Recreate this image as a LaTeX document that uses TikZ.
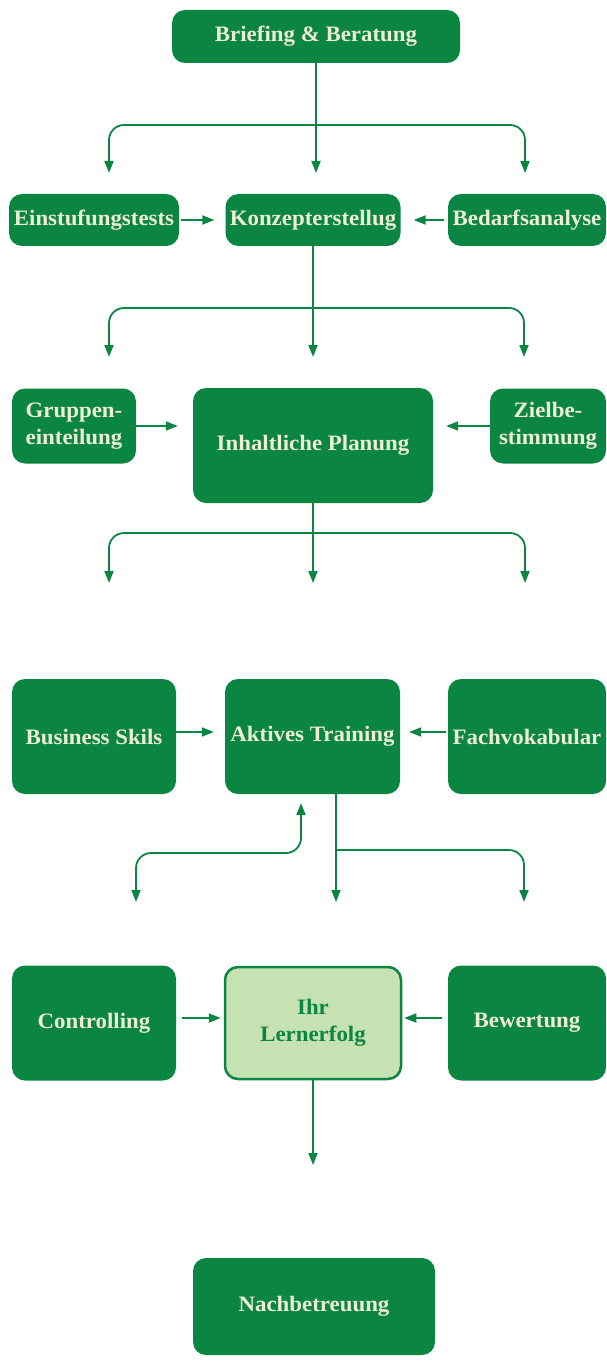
\documentclass[tikz,border=0pt]{standalone}
\usepackage{fontspec}
\setmainfont{Liberation Serif}[FakeStretch=1.04]
\usepackage{xcolor}
\usetikzlibrary{arrows.meta,positioning,calc}

\definecolor{flowgreen}{RGB}{11,133,66}
\definecolor{flowlight}{RGB}{198,225,178}
\definecolor{flowtext}{RGB}{238,238,215}

\begin{document}
\begin{tikzpicture}[x=1pt, y=-1pt,
    block/.style={fill=flowgreen, rounded corners=13pt, text=flowtext, font=\bfseries\fontsize{22}{27}\selectfont, align=center, inner sep=0pt},
    goal/.style={block, draw=flowgreen, line width=2.5pt, fill=flowlight, text=flowgreen},
    arr/.style={-{Triangle[length=12pt, width=9pt]}, draw=flowgreen, line width=1.8pt},
    branch/.style={arr, rounded corners=15pt},
    twoway/.style={{Triangle[length=12pt, width=9pt]}-{Triangle[length=12pt, width=9pt]}, draw=flowgreen, line width=1.8pt, rounded corners=15pt}
]
    \useasboundingbox (0,0) rectangle (607,1364);

    % Start
    \node[block, minimum width=288pt, minimum height=53pt] (brief) at (316,36.5) {Briefing \& Beratung};

    % Row 2
    \node[block, minimum width=170pt, minimum height=52pt] (einst) at (94,220) {Einstufungstests};
    \node[block, minimum width=175pt, minimum height=52pt] (konz) at (313,220) {Konzepterstellug};
    \node[block, minimum width=158pt, minimum height=52pt] (bedarf) at (527,220) {Bedarfsanalyse};

    % Row 3
    \node[block, minimum width=124pt, minimum height=75pt] (gruppe) at (74,426) {Gruppen-\\einteilung};
    \node[block, minimum width=240pt, minimum height=115pt] (inhalt) at (313,445.5) {Inhaltliche Planung};
    \node[block, minimum width=116pt, minimum height=75pt] (ziel) at (548,426) {Zielbe-\\stimmung};

    % Row 4
    \node[block, minimum width=164pt, minimum height=115pt] (skills) at (94,736.5) {Business Skils};
    \node[block, minimum width=175pt, minimum height=115pt] (training) at (312.5,736.5) {Aktives Training};
    \node[block, minimum width=158pt, minimum height=115pt] (vokab) at (527,736.5) {Fachvokabular};

    % Row 5
    \node[block, minimum width=164pt, minimum height=115pt] (control) at (94,1023) {Controlling};
    \node[goal, minimum width=176pt, minimum height=112pt] (erfolg) at (313,1023) {Ihr\\Lernerfolg};
    \node[block, minimum width=158pt, minimum height=115pt] (bewert) at (527,1023) {Bewertung};

    % End
    \node[block, minimum width=242pt, minimum height=97pt] (nach) at (314,1306.5) {Nachbetreuung};

    % Split points and free arrow ends
    \coordinate (split1) at (316,125);
    \coordinate (tip1l) at (109,173);
    \coordinate (tip1m) at (316,173);
    \coordinate (tip1r) at (525,173);
    \coordinate (split2) at (313,308);
    \coordinate (tip2l) at (109,357);
    \coordinate (tip2m) at (313,357);
    \coordinate (tip2r) at (524,357);
    \coordinate (split3) at (313,533);
    \coordinate (tip3l) at (109,583);
    \coordinate (tip3m) at (313,583);
    \coordinate (tip3r) at (525,583);
    \coordinate (back) at (301,803);
    \coordinate (split4) at (336,850);
    \coordinate (tip4l) at (136,902);
    \coordinate (tip4m) at (336,902);
    \coordinate (tip4r) at (524,902);
    \coordinate (tip5) at (313,1165);

    % Briefing -> row 2
    \draw[arr] (brief.south -| tip1m) -- (tip1m);
    \draw[branch] (split1) -| (tip1l);
    \draw[branch] (split1) -| (tip1r);
    \draw[arr, shorten <=2pt, shorten >=11pt] (einst) -- (konz);
    \draw[arr, shorten <=4pt, shorten >=13pt] (bedarf) -- (konz);

    % Konzept -> row 3
    \draw[arr] (konz.south) -- (tip2m);
    \draw[branch] (split2) -| (tip2l);
    \draw[branch] (split2) -| (tip2r);
    \draw[arr, shorten >=15pt] (gruppe) -- (gruppe -| inhalt.west);
    \draw[arr, shorten >=13pt] (ziel) -- (ziel -| inhalt.east);

    % Planung -> row 4
    \draw[arr] (inhalt.south) -- (tip3m);
    \draw[branch] (split3) -| (tip3l);
    \draw[branch] (split3) -| (tip3r);
    \draw[arr, shorten >=11pt] ([yshift=4.5pt]skills.east) -- ([yshift=4.5pt]training.west);
    \draw[arr, shorten <=2pt, shorten >=9pt] ([yshift=4.5pt]vokab.west) -- ([yshift=4.5pt]training.east);

    % Training -> row 5
    \draw[arr] (training.south -| tip4m) -- (tip4m);
    \draw[branch] (split4) -| (tip4r);
    \draw[twoway] (back) |- ([yshift=49pt]tip4l) -- (tip4l);
    \draw[arr, shorten <=6pt, shorten >=3pt] ([yshift=5pt]control.east) -- ([yshift=5pt]erfolg.west);
    \draw[arr, shorten <=6pt, shorten >=2pt] ([yshift=5pt]bewert.west) -- ([yshift=5pt]erfolg.east);

    % Lernerfolg -> end
    \draw[arr] (erfolg.south) -- (tip5);
\end{tikzpicture}
\end{document}
